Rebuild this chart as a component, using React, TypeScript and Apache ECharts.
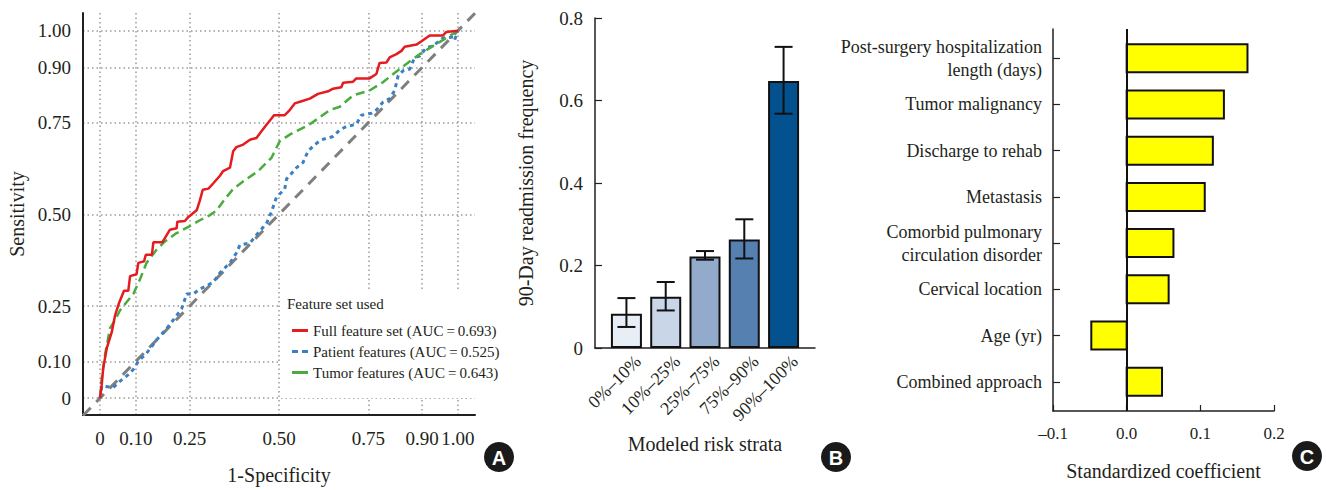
import React, { useEffect, useRef } from 'react';
import * as echarts from 'echarts';

const FONT = '"Liberation Serif", "Times New Roman", serif';
const TEXT = '#231f20';

// ---------- Panel A: ROC curves ----------
const rocTicks = [0, 0.1, 0.25, 0.5, 0.75, 0.9, 1.0];
const rocLegend = [
  'Full feature set (AUC\u2009=\u20090.693)',
  'Patient features (AUC\u2009=\u20090.525)',
  'Tumor features (AUC\u2009=\u20090.643)',
];
const fullFeature = [
  [0, 0], [0.005, 0.038], [0.009, 0.082], [0.019, 0.136], [0.033, 0.18], [0.042, 0.225],
  [0.054, 0.261], [0.067, 0.292], [0.079, 0.292], [0.084, 0.332], [0.102, 0.337], [0.107, 0.368],
  [0.123, 0.372], [0.128, 0.39], [0.145, 0.39], [0.149, 0.424], [0.174, 0.424], [0.195, 0.458],
  [0.214, 0.462], [0.216, 0.48], [0.237, 0.482], [0.247, 0.493], [0.27, 0.511], [0.279, 0.538],
  [0.287, 0.567], [0.303, 0.57], [0.316, 0.584], [0.335, 0.605], [0.344, 0.618], [0.363, 0.627],
  [0.372, 0.672], [0.381, 0.683], [0.4, 0.69], [0.419, 0.703], [0.437, 0.708], [0.451, 0.726],
  [0.465, 0.744], [0.479, 0.761], [0.486, 0.77], [0.516, 0.77], [0.53, 0.784], [0.544, 0.802],
  [0.563, 0.808], [0.586, 0.815], [0.609, 0.828], [0.637, 0.835], [0.651, 0.842], [0.674, 0.846],
  [0.679, 0.858], [0.707, 0.861], [0.716, 0.87], [0.753, 0.87], [0.772, 0.882], [0.781, 0.912],
  [0.8, 0.913], [0.809, 0.927], [0.828, 0.936], [0.842, 0.945], [0.851, 0.956], [0.884, 0.962],
  [0.898, 0.971], [0.921, 0.987], [0.958, 0.987], [0.967, 0.996], [1, 1],
];
const patientFeature = [
  [0, 0], [0.005, 0.033], [0.037, 0.029], [0.056, 0.046], [0.079, 0.064], [0.093, 0.078],
  [0.107, 0.1], [0.13, 0.122], [0.158, 0.158], [0.186, 0.189], [0.209, 0.218], [0.228, 0.243],
  [0.242, 0.283], [0.26, 0.283], [0.279, 0.297], [0.298, 0.306], [0.316, 0.315], [0.335, 0.341],
  [0.363, 0.368], [0.381, 0.395], [0.391, 0.417], [0.419, 0.422], [0.437, 0.444], [0.465, 0.475],
  [0.479, 0.507], [0.493, 0.547], [0.516, 0.569], [0.521, 0.596], [0.549, 0.627], [0.567, 0.641],
  [0.581, 0.672], [0.6, 0.69], [0.619, 0.703], [0.651, 0.712], [0.67, 0.73], [0.688, 0.739],
  [0.716, 0.745], [0.73, 0.77], [0.758, 0.775], [0.772, 0.784], [0.791, 0.806], [0.809, 0.815],
  [0.823, 0.837], [0.833, 0.878], [0.847, 0.891], [0.865, 0.895], [0.879, 0.927], [0.893, 0.931],
  [0.912, 0.954], [0.93, 0.958], [0.958, 0.98], [0.991, 0.983], [0.991, 0.976], [1, 1],
];
const tumorFeature = [
  [0, 0], [0.005, 0.055], [0.014, 0.118], [0.028, 0.19], [0.042, 0.212], [0.056, 0.239],
  [0.074, 0.261], [0.093, 0.283], [0.112, 0.324], [0.13, 0.368], [0.158, 0.404], [0.181, 0.426],
  [0.214, 0.449], [0.247, 0.466], [0.279, 0.484], [0.307, 0.498], [0.326, 0.511], [0.349, 0.542],
  [0.372, 0.569], [0.409, 0.596], [0.442, 0.618], [0.479, 0.654], [0.502, 0.699], [0.53, 0.717],
  [0.586, 0.745], [0.642, 0.784], [0.67, 0.793], [0.707, 0.824], [0.753, 0.837], [0.791, 0.86],
  [0.819, 0.882], [0.851, 0.906], [0.893, 0.936], [0.93, 0.958], [0.967, 0.98], [1, 1],
];
const chanceLine = [[-0.0475, -0.0475], [1.0475, 1.0475]];

// ---------- Panel B: readmission by risk strata ----------
const riskStrata = ['0%–10%', '10%–25%', '25%–75%', '75%–90%', '90%–100%'];
const readmitFreq = [0.083, 0.124, 0.222, 0.263, 0.647];
const readmitLow = [0.051, 0.091, 0.214, 0.217, 0.568];
const readmitHigh = [0.121, 0.16, 0.235, 0.312, 0.73];
const strataColors = ['#e8eef6', '#c9d6e7', '#92abca', '#5580b0', '#04518f'];

// ---------- Panel C: standardized coefficients ----------
const predictors = [
  'Post-surgery hospitalization\nlength (days)',
  'Tumor malignancy',
  'Discharge to rehab',
  'Metastasis',
  'Comorbid pulmonary\ncirculation disorder',
  'Cervical location',
  'Age (yr)',
  'Combined approach',
];
const coefficients = [0.164, 0.132, 0.117, 0.106, 0.0635, 0.057, -0.048, 0.048];

const SOLID_ICON = 'path://M0,0H16V3H0Z';
const DASH_ICON = 'path://M0,0H6V3H0ZM10,0H16V3H10Z';

export default function App() {
  const ref = useRef<HTMLDivElement>(null);

  useEffect(() => {
    if (!ref.current) return;
    const chart = echarts.init(ref.current, undefined, { renderer: 'svg' });
    const strataPos = riskStrata.map((_, i) => i + 1);
    const predPos = predictors.map((_, i) => i + 1);
    const baseText = { fontFamily: FONT, color: TEXT };

    const option: any = {
      animation: false,
      backgroundColor: '#fff',
      textStyle: { fontFamily: FONT, color: TEXT },
      grid: [
        { left: 83, top: 13, width: 392, height: 408 },
        { left: 595, top: 18, width: 220, height: 330 },
        { left: 1053, top: 29, width: 221, height: 382 },
      ],
      legend: {
        data: [
          { name: rocLegend[0], icon: SOLID_ICON },
          { name: rocLegend[1], icon: DASH_ICON },
          { name: rocLegend[2], icon: SOLID_ICON },
        ],
        orient: 'vertical',
        left: 292,
        top: 323,
        itemWidth: 16,
        itemHeight: 3,
        itemGap: 6,
        padding: 0,
        textStyle: { ...baseText, fontSize: 15, lineHeight: 14 },
      },
      xAxis: [
        {
          type: 'value', gridIndex: 0, min: -0.0475, max: 1.0475,
          axisLine: { onZero: false, lineStyle: { color: TEXT, width: 2 } },
          axisTick: { show: false, customValues: rocTicks },
          axisLabel: {
            customValues: rocTicks, ...baseText, fontSize: 19, margin: 14,
            formatter: (v: number) => (v === 0 ? '0' : v.toFixed(2)),
          },
          splitLine: { show: true, lineStyle: { color: '#9a9a9a', width: 1.5, type: [1.5, 3] } },
          name: '1-Specificity', nameLocation: 'middle', nameGap: 50,
          nameTextStyle: { ...baseText, fontSize: 20 },
        },
        {
          type: 'value', gridIndex: 1, min: 0.2, max: 5.8,
          axisLine: { onZero: false, lineStyle: { color: TEXT, width: 1.5 } },
          axisTick: { show: false, customValues: strataPos },
          axisLabel: {
            customValues: strataPos, rotate: 45, ...baseText, fontSize: 18, margin: 9,
            verticalAlign: 'top', padding: [0, -7, 0, 0],
            formatter: (v: number) => riskStrata[Math.round(v) - 1] ?? '',
          },
          splitLine: { show: false },
          name: 'Modeled risk strata', nameLocation: 'middle', nameGap: 86,
          nameTextStyle: { ...baseText, fontSize: 20 },
        },
        {
          type: 'value', gridIndex: 2, min: -0.1, max: 0.2, interval: 0.1,
          axisLine: { onZero: false, lineStyle: { color: TEXT, width: 1.5 } },
          axisTick: { show: true, inside: true, length: 6, lineStyle: { color: TEXT, width: 1.2 } },
          axisLabel: {
            ...baseText, fontSize: 17, margin: 14,
            formatter: (v: number) => (v < 0 ? '\u2013' + Math.abs(v).toFixed(1) : v.toFixed(1)),
          },
          splitLine: { show: false },
          name: 'Standardized coefficient', nameLocation: 'middle', nameGap: 50,
          nameTextStyle: { ...baseText, fontSize: 20 },
        },
      ],
      yAxis: [
        {
          type: 'value', gridIndex: 0, min: -0.046, max: 1.048,
          axisLine: { show: true, onZero: false, lineStyle: { color: TEXT, width: 2 } },
          axisTick: { show: false, customValues: rocTicks },
          axisLabel: {
            customValues: rocTicks, ...baseText, fontSize: 19, margin: 12,
            formatter: (v: number) => (v === 0 ? '0' : v.toFixed(2)),
          },
          splitLine: { show: true, lineStyle: { color: '#9a9a9a', width: 1.5, type: [1.5, 3] } },
          name: 'Sensitivity', nameLocation: 'middle', nameGap: 56,
          nameTextStyle: { ...baseText, fontSize: 20 },
        },
        {
          type: 'value', gridIndex: 1, min: 0, max: 0.8, interval: 0.2,
          axisLine: { show: true, onZero: false, lineStyle: { color: TEXT, width: 1.5 } },
          axisTick: { show: true, inside: true, length: 7, lineStyle: { color: TEXT, width: 1.2 } },
          axisLabel: {
            ...baseText, fontSize: 19, margin: 12,
            formatter: (v: number) => (v === 0 ? '0' : v.toFixed(1)),
          },
          splitLine: { show: false },
          name: '90-Day readmission frequency', nameLocation: 'middle', nameGap: 59,
          nameTextStyle: { ...baseText, fontSize: 20 },
        },
        {
          type: 'value', gridIndex: 2, inverse: true, min: 0.37, max: 8.63,
          axisLine: { show: true, onZero: false, lineStyle: { color: TEXT, width: 1.5 } },
          axisTick: { show: true, inside: true, length: 7, customValues: predPos, lineStyle: { color: TEXT, width: 1.2 } },
          axisLabel: {
            customValues: predPos, ...baseText, fontSize: 18, lineHeight: 23, margin: 11,
            formatter: (v: number) => predictors[Math.round(v) - 1] ?? '',
          },
          splitLine: { show: false },
        },
      ],
      series: [
        {
          type: 'line', name: 'chance', xAxisIndex: 0, yAxisIndex: 0, data: chanceLine,
          symbol: 'none', z: 1, silent: true,
          lineStyle: { color: '#7f7f7f', width: 3, type: [11, 8] },
        },
        {
          type: 'line', name: rocLegend[0], xAxisIndex: 0, yAxisIndex: 0, data: fullFeature,
          symbol: 'none', color: '#e41b1f', z: 4,
          lineStyle: { color: '#e41b1f', width: 2.5 },
        },
        {
          type: 'line', name: rocLegend[1], xAxisIndex: 0, yAxisIndex: 0, data: patientFeature,
          symbol: 'none', color: '#3a80c3', z: 3,
          lineStyle: { color: '#3a80c3', width: 3, type: [4, 4] },
        },
        {
          type: 'line', name: rocLegend[2], xAxisIndex: 0, yAxisIndex: 0, data: tumorFeature,
          symbol: 'none', color: '#4aab3e', z: 3,
          lineStyle: { color: '#4aab3e', width: 2.5, type: [9, 5] },
        },
        {
          type: 'bar', name: 'readmission', xAxisIndex: 1, yAxisIndex: 1, barWidth: 31,
          data: readmitFreq.map((v, i) => ({
            value: [i + 1, v],
            itemStyle: { color: strataColors[i], borderColor: '#111', borderWidth: 2 },
          })),
        },
        {
          type: 'custom', name: 'ci', xAxisIndex: 1, yAxisIndex: 1, z: 5,
          data: readmitLow.map((lo, i) => [i + 1, lo, readmitHigh[i]]),
          renderItem: (_p: any, api: any) => {
            const x = api.value(0);
            const lo = api.coord([x, api.value(1)]);
            const hi = api.coord([x, api.value(2)]);
            const cw = 9;
            const st = { stroke: '#111', lineWidth: 2 };
            return {
              type: 'group',
              children: [
                { type: 'line', shape: { x1: lo[0], y1: lo[1], x2: hi[0], y2: hi[1] }, style: st },
                { type: 'line', shape: { x1: lo[0] - cw, y1: lo[1], x2: lo[0] + cw, y2: lo[1] }, style: st },
                { type: 'line', shape: { x1: hi[0] - cw, y1: hi[1], x2: hi[0] + cw, y2: hi[1] }, style: st },
              ],
            };
          },
        },
        {
          type: 'custom', name: 'coef', xAxisIndex: 2, yAxisIndex: 2, z: 3,
          data: coefficients.map((v, i) => [v, i + 1]),
          renderItem: (_p: any, api: any) => {
            const v = api.value(0);
            const c = api.value(1);
            const a = api.coord([0, c]);
            const b = api.coord([v, c]);
            const h = 28;
            return {
              type: 'rect',
              shape: { x: Math.min(a[0], b[0]), y: a[1] - h / 2, width: Math.abs(b[0] - a[0]), height: h },
              style: { fill: '#ffff00', stroke: '#111', lineWidth: 2 },
            };
          },
          markLine: {
            silent: true, symbol: ['none', 'none'], label: { show: false },
            lineStyle: { color: '#111', width: 2, type: 'solid' },
            data: [{ xAxis: 0 }],
          },
        },
      ],
      graphic: [
        { type: 'rect', z: 1, shape: { x: 281, y: 290, width: 230, height: 108 }, style: { fill: '#fff' } },
        {
          type: 'text', z: 5, x: 287, y: 304,
          style: { text: 'Feature set used', font: `15px ${FONT}`, fill: TEXT, verticalAlign: 'middle' },
        },
        ...[['A', 499, 457], ['B', 836, 457], ['C', 1307, 456]].flatMap(([t, x, y]) => [
          { type: 'circle', z: 5, shape: { cx: x, cy: y, r: 15 }, style: { fill: '#1a1a1a' } },
          {
            type: 'text', z: 6, x: x as number, y: (y as number) + 1,
            style: {
              text: t as string, font: 'bold 20px "Liberation Sans", Arial, sans-serif',
              fill: '#fff', align: 'center', verticalAlign: 'middle',
            },
          },
        ]),
      ],
    };

    chart.setOption(option);
    return () => chart.dispose();
  }, []);

  return (
    <div
      ref={ref}
      style={{ position: 'absolute', left: 0, top: 0, width: 1326, height: 490, background: '#fff' }}
    />
  );
}
